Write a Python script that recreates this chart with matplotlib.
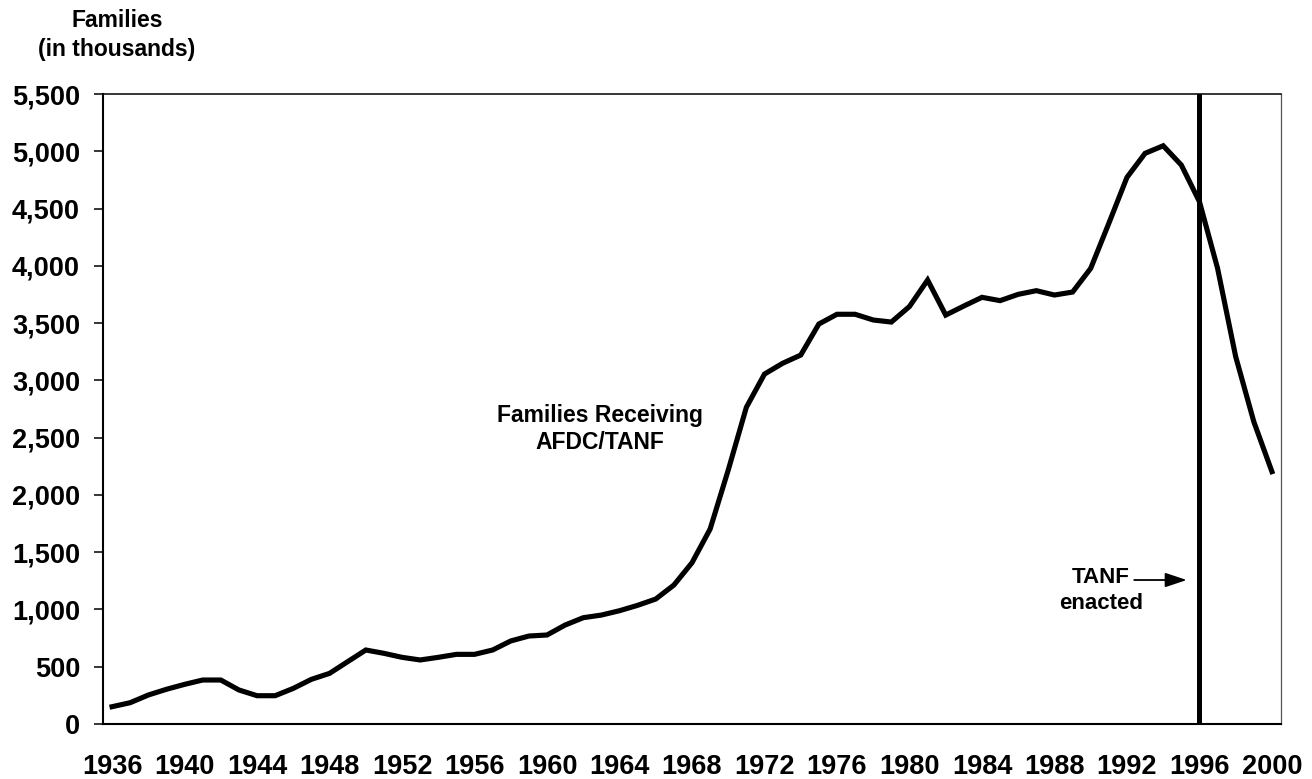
import matplotlib
matplotlib.use("Agg")
import matplotlib.pyplot as plt
from matplotlib.ticker import FuncFormatter

plt.rcParams['font.family'] = ['Liberation Sans', 'DejaVu Sans']
plt.rcParams['font.weight'] = 'bold'

years = list(range(1936, 2001))
families = [151, 186, 253, 303, 346, 384, 384, 297, 247, 247,
            311, 390, 442, 544, 646, 617, 582, 559, 582, 608,
            608, 646, 725, 768, 777,
            864, 928, 951, 989, 1036, 1091, 1213, 1408, 1702, 2217,
            2765, 3055, 3149, 3221, 3492, 3577, 3577, 3527, 3509, 3645,
            3876, 3570, 3649, 3725, 3696, 3751, 3783, 3745, 3771, 3978,
            4371, 4772, 4982, 5048, 4880, 4560, 3978, 3207, 2639, 2203]
x_tick_years = list(range(1936, 2001, 4))
y_ticks = list(range(0, 5501, 500))
tanf_year = 1996

fig = plt.figure(figsize=(13.12, 7.79), dpi=100)
ax = fig.add_axes([103/1312, 1-724/779, (1281-103)/1312, (724-94)/779])

ax.plot(years, families, color='black', linewidth=3.7, solid_joinstyle='miter')
ax.axvline(tanf_year, color='black', linewidth=3.6)

ax.set_xlim(1935.5, 2000.5)
ax.set_ylim(0, 5500)
ax.set_xticks(x_tick_years)
ax.set_xticklabels([str(y) for y in x_tick_years])
ax.set_yticks(y_ticks)
ax.yaxis.set_major_formatter(FuncFormatter(lambda v, p: f"{int(v):,}"))

ax.tick_params(axis='x', length=0, pad=21.5, labelsize=19.5)
ax.tick_params(axis='y', length=6.5, width=1.1, pad=10, labelsize=19.5, direction='out')
for lab in ax.get_xticklabels() + ax.get_yticklabels():
    lab.set_fontweight('bold')

ax.spines['left'].set_linewidth(1.5)
ax.spines['bottom'].set_linewidth(1.5)
ax.spines['top'].set_linewidth(1.1)
ax.spines['right'].set_linewidth(0.9)
ax.spines['right'].set_color('#555555')

ax.text(1962.9, 2575, "Families Receiving\nAFDC/TANF", ha='center', va='center',
        fontsize=16.5, fontweight='bold', linespacing=1.2)
ax.text(1990.57, 1165, "TANF\nenacted", ha='center', va='center',
        fontsize=16, fontweight='bold', linespacing=1.35)
ax.annotate("", xy=(1995.3, 1257), xytext=(1992.4, 1257),
            arrowprops=dict(arrowstyle='-|>,head_length=0.6,head_width=0.2',
                            color='black', lw=1.3,
                            mutation_scale=22, shrinkA=0, shrinkB=0))

fig.text(117/1312, 1-35/779, "Families\n(in thousands)", ha='center', va='center',
         fontsize=16.5, fontweight='bold', linespacing=1.3)

fig.savefig("out.png", dpi=100)
